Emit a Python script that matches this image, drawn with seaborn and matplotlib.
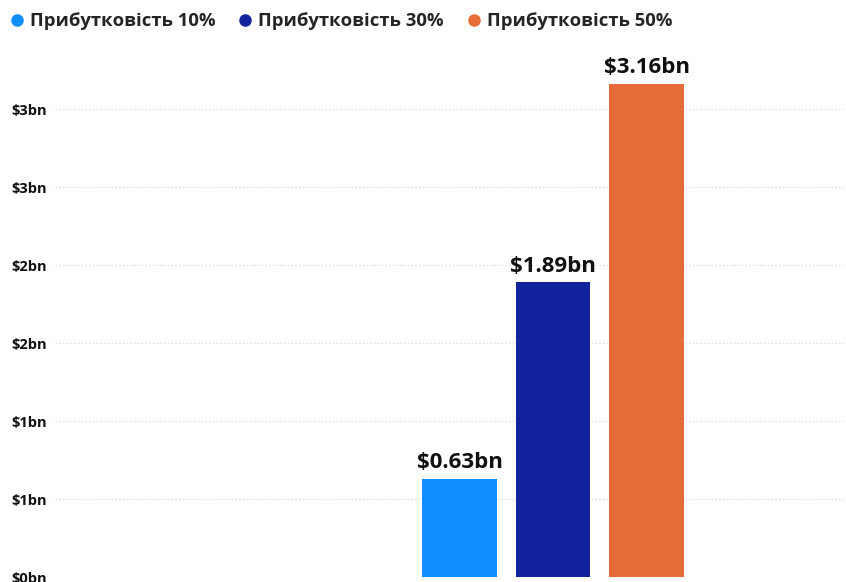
import matplotlib
matplotlib.use("Agg")
import matplotlib.pyplot as plt
import seaborn as sns
import numpy as np
import pandas as pd
from matplotlib.lines import Line2D
from matplotlib.ticker import FuncFormatter, MultipleLocator

series = ["Прибутковість 10%", "Прибутковість 30%", "Прибутковість 50%"]
values = [0.63, 1.89, 3.16]
colors = ["#118DFF", "#12239E", "#E66C37"]

df = pd.DataFrame({"series": series, "value": values})

sns.set_theme(style="white")
plt.rcParams["font.family"] = ["Open Sans", "DejaVu Sans"]

W, H = 846, 582
fig = plt.figure(figsize=(W / 100, H / 100), dpi=100)

# axes placed in pixels
left_px, right_px, zero_px = 55, 846, 577
px_per_unit = 156.0
ymax = 3.4
ax = fig.add_axes([left_px / W, (H - zero_px) / H, (right_px - left_px) / W,
                   px_per_unit * ymax / H])

sns.barplot(data=df, x="series", y="value", hue="series", palette=colors,
            width=0.8, legend=False, ax=ax, saturation=1, linewidth=0)

# bar centre of first bar at x=459.5 px, spacing 93.5 px
step = 93.5
x0 = (459.5 - left_px) / step
ax.set_xlim(-x0, (right_px - left_px) / step - x0)
ax.set_ylim(0, ymax)

ax.yaxis.set_major_locator(MultipleLocator(0.5))
ax.yaxis.set_major_formatter(FuncFormatter(lambda v, p: f"${int(np.floor(v + 0.5))}bn"))
ax.grid(axis="y", color="#d9d9d9", linestyle=(0, (1, 2)), linewidth=0.9)
ax.set_axisbelow(True)
for s in ax.spines.values():
    s.set_visible(False)
ax.set_xticks([])
ax.set_xlabel("")
ax.set_ylabel("")
ax.tick_params(axis="y", length=0, pad=6)
for t in ax.get_yticklabels():
    t.set_fontweight("bold")
    t.set_fontsize(10.5)
    t.set_color("#111111")

for cont in ax.containers:
    ax.bar_label(cont, labels=[f"${v:.2f}bn" for v in cont.datavalues],
                 padding=4, fontsize=16, fontweight="bold", color="#111111")

handles = [Line2D([0], [0], marker="o", linestyle="", markersize=8,
                  markerfacecolor=c, markeredgecolor=c) for c in colors]
fig.legend(handles, series, loc="upper left", bbox_to_anchor=(-0.0106, 1.008),
           ncol=3, frameon=False, handletextpad=0.2, columnspacing=1.12,
           handlelength=1.0, prop={"weight": "bold", "size": 13.3},
           labelcolor="#252423")

fig.savefig("out.png", dpi=100)
